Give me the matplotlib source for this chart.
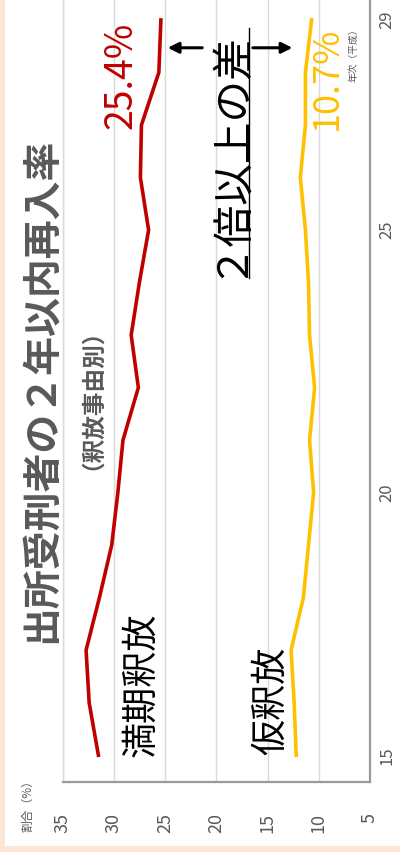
import matplotlib
matplotlib.use("Agg")
import matplotlib.pyplot as plt
from matplotlib.patches import Rectangle
from matplotlib.lines import Line2D

plt.rcParams['font.family'] = ['Noto Sans CJK JP', 'DejaVu Sans']

# 年次（平成）
years = [15, 16, 17, 18, 19, 20, 21, 22, 23, 24, 25, 26, 27, 28, 29]
# 2年以内再入率（%）
manki = [31.5, 32.4, 32.7, 31.4, 30.2, 29.6, 29.1, 27.6, 28.3, 27.5, 26.6, 27.4, 27.3, 25.6, 25.4]
kari = [12.2, 12.4, 12.7, 11.5, 11.0, 10.5, 10.9, 10.4, 10.9, 11.0, 11.3, 11.8, 11.3, 11.3, 10.7]
year_ticks = [15, 20, 25, 29]
value_ticks = [35, 30, 25, 20, 15, 10, 5]

W, H = 400, 852
GRAY = '#595959'
RED = '#C00000'
GOLD = '#FFC000'


def px(x, y):
    # image pixel position -> figure fraction
    return x / W, 1 - y / H


fig = plt.figure(figsize=(W / 100, H / 100), dpi=100)
fig.patch.set_facecolor('#FBE5D6')
fig.add_artist(Rectangle(px(5, 846), (W - 5) / W, 846 / H, transform=fig.transFigure,
                         facecolor='white', edgecolor='none', zorder=0))

# chart is drawn turned a quarter turn: years run up, values run right-to-left
ax = fig.add_axes([62.5 / W, (H - 782) / H, (370 - 62.5) / W, 782 / H])
ax.set_facecolor('white')
ax.plot(manki, years, color=RED, lw=2.6, solid_joinstyle='miter', zorder=3)
ax.plot(kari, years, color=GOLD, lw=2.6, solid_joinstyle='miter', zorder=3)

ax.set_xlim(35, 5)
ax.set_ylim(14.49, 29.38)
ax.set_xticks(value_ticks)
ax.set_xticklabels([str(v) for v in value_ticks], rotation=90, color=GRAY, fontsize=13)
ax.set_yticks(year_ticks)
ax.set_yticklabels([str(v) for v in year_ticks], rotation=90, va='center', color=GRAY, fontsize=12)
ax.yaxis.tick_right()
ax.tick_params(axis='x', length=0, pad=22)
ax.tick_params(axis='y', length=0, pad=6)
ax.grid(axis='x', color='#D9D9D9', lw=1)
ax.set_axisbelow(True)
ax.spines['top'].set_visible(False)
ax.spines['left'].set_color('#D9D9D9')
ax.spines['left'].set_linewidth(1)
for s in ('bottom', 'right'):
    ax.spines[s].set_color('#9A9A9A')
    ax.spines[s].set_linewidth(1.6)

# titles
fig.text(*px(42, 390), '出所受刑者の２年以内再入率', rotation=90, ha='center', va='center',
         fontsize=28, fontweight='bold', color=GRAY)
fig.text(*px(80, 387), '（釈放事由別）', rotation=90, ha='center', va='center',
         fontsize=17, fontweight='bold', color=GRAY)

# axis captions
fig.text(*px(28, 803), '割合（%）', rotation=90, ha='center', va='center', fontsize=8.5, color=GRAY)
fig.text(*px(353, 53), '年次（平成）', rotation=90, ha='center', va='center', fontsize=7, color=GRAY)

# series labels
fig.text(*px(141, 685), '満期釈放', rotation=90, ha='center', va='center', fontsize=26, color='black')
fig.text(*px(271, 701), '仮釈放', rotation=90, ha='center', va='center', fontsize=26, color='black')
fig.text(*px(121, 75), '25.4%', rotation=90, ha='center', va='center', fontsize=27, color=RED)
fig.text(*px(327, 78), '10.7%', rotation=90, ha='center', va='center', fontsize=26, color=GOLD)

# difference note with arrows
note = fig.text(*px(228, 153), '２倍以上の差', rotation=90, ha='center', va='center',
                fontsize=30, color='black')
fig.canvas.draw()
bb = note.get_window_extent().transformed(fig.transFigure.inverted())
fig.add_artist(Line2D([bb.x1 + 1 / W, bb.x1 + 1 / W], [bb.y0, bb.y1], color='black', lw=1,
                      transform=fig.transFigure))

arrow = dict(arrowstyle='-|>', color='black', lw=2.2, mutation_scale=16)
ax.annotate('', xy=(25.0, 28.47), xytext=(21.1, 28.47), arrowprops=arrow)
ax.annotate('', xy=(12.3, 28.47), xytext=(16.7, 28.47), arrowprops=arrow)

fig.savefig('out.png', dpi=100)
